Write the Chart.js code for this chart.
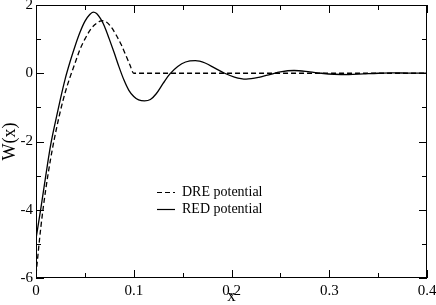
<!DOCTYPE html>
<html>
<head>
<meta charset="utf-8">
<script src="https://cdn.jsdelivr.net/npm/chart.js@4"></script>
<style>
  html, body { margin: 0; padding: 0; background: #fff; }
  #wrap { width: 436px; height: 305px; }
</style>
</head>
<body>
<div id="wrap"><canvas id="potChart"></canvas></div>
<script>
// values
const dreX = [0, 0.005, 0.01, 0.015, 0.02, 0.025, 0.03, 0.035, 0.04, 0.045, 0.05, 0.055, 0.06, 0.065, 0.068, 0.072, 0.077, 0.082, 0.087, 0.092, 0.096, 0.1, 0.4];
const dreW = [-5.9, -4.5, -3.4, -2.5, -1.75, -1.1, -0.55, -0.1, 0.3, 0.7, 1.0, 1.25, 1.42, 1.52, 1.54, 1.5, 1.35, 1.12, 0.85, 0.52, 0.25, 0, 0];

const redX = [0, 0.005, 0.01, 0.015, 0.02, 0.025, 0.03, 0.035, 0.04, 0.045, 0.05, 0.055, 0.0585, 0.062, 0.066, 0.07, 0.075, 0.08, 0.085, 0.09, 0.095, 0.1, 0.105, 0.111, 0.117, 0.123, 0.13, 0.137, 0.145, 0.153, 0.163, 0.173, 0.183, 0.193, 0.203, 0.215, 0.228, 0.24, 0.25, 0.264, 0.28, 0.292, 0.305, 0.32, 0.335, 0.35, 0.365, 0.38, 0.4];
const redW = [-4.85, -3.95, -3.0, -2.1, -1.4, -0.75, -0.15, 0.35, 0.8, 1.2, 1.52, 1.72, 1.79, 1.75, 1.6, 1.38, 1.0, 0.6, 0.18, -0.2, -0.5, -0.68, -0.78, -0.81, -0.77, -0.6, -0.3, -0.02, 0.2, 0.33, 0.37, 0.3, 0.15, 0.0, -0.11, -0.17, -0.12, -0.03, 0.04, 0.08, 0.04, 0.0, -0.03, -0.04, -0.02, 0.0, 0.01, 0.005, 0];

const seriesNames = ['DRE potential', 'RED potential'];
const xRange = [0, 0.4];
const yRange = [-6, 2];

const serif = '"Liberation Serif", "Times New Roman", serif';

function toPoints(xs, ys) {
  return xs.map((x, i) => ({ x: x, y: ys[i] }));
}

// fixed box sizes so the plot area sits where the original one does
function fixBox(s, size) {
  if (s.isHorizontal()) s.height = size; else s.width = size;
  s.paddingTop = 0; s.paddingBottom = 0;
  s.paddingLeft = 0; s.paddingRight = 0;
}

// frame, inward ticks and the legend box inside the plot
const decorations = {
  id: 'decorations',
  afterDraw(chart) {
    const ctx = chart.ctx;
    const { left, right, top, bottom } = chart.chartArea;
    const x = chart.scales.x, y = chart.scales.y;
    ctx.save();
    ctx.strokeStyle = '#000';
    ctx.lineWidth = 1;
    ctx.strokeRect(left + 0.5, top + 0.5, right - left - 1, bottom - top - 1);

    ctx.beginPath();
    for (let i = 0; i <= 8; i++) {
      const px = Math.round(x.getPixelForValue(i * 0.05)) + 0.5;
      const len = i % 2 === 0 ? 8 : 5;
      ctx.moveTo(px, bottom); ctx.lineTo(px, bottom - len);
      ctx.moveTo(px, top); ctx.lineTo(px, top + len);
    }
    for (let v = yRange[0]; v <= yRange[1]; v++) {
      const py = Math.round(y.getPixelForValue(v)) + 0.5;
      const len = v % 2 === 0 ? 8 : 5;
      ctx.moveTo(left, py); ctx.lineTo(left + len, py);
      ctx.moveTo(right, py); ctx.lineTo(right - len, py);
    }
    ctx.stroke();

    // legend
    const lx = 157, ly = 192, gap = 17;
    ctx.font = '14px ' + serif;
    ctx.fillStyle = '#000';
    ctx.textBaseline = 'middle';
    chart.data.datasets.forEach((ds, i) => {
      const yy = ly + i * gap + 0.5;
      ctx.setLineDash(ds.borderDash || []);
      ctx.lineWidth = 1.2;
      ctx.beginPath();
      ctx.moveTo(lx, yy); ctx.lineTo(lx + 18, yy);
      ctx.stroke();
      ctx.setLineDash([]);
      ctx.fillText(ds.label, lx + 25, yy);
    });
    ctx.restore();
  }
};

new Chart(document.getElementById('potChart'), {
  type: 'line',
  data: {
    datasets: [{
      label: seriesNames[0],
      data: toPoints(dreX, dreW),
      borderColor: '#000',
      borderWidth: 1.3,
      borderDash: [5, 3],
      pointRadius: 0,
      cubicInterpolationMode: 'monotone'
    }, {
      label: seriesNames[1],
      data: toPoints(redX, redW),
      borderColor: '#000',
      borderWidth: 1.3,
      pointRadius: 0,
      cubicInterpolationMode: 'monotone'
    }]
  },
  options: {
    responsive: true,
    maintainAspectRatio: false,
    animation: false,
    layout: { padding: { top: 5, right: 9, left: 0, bottom: 0 } },
    plugins: {
      legend: { display: false },
      tooltip: { enabled: false }
    },
    scales: {
      x: {
        type: 'linear',
        min: xRange[0],
        max: xRange[1],
        grid: { display: false, drawTicks: false },
        border: { display: false },
        afterFit(s) { fixBox(s, 27); },
        ticks: {
          stepSize: 0.1,
          padding: 4,
          color: '#000',
          font: { family: serif, size: 15 },
          maxRotation: 0,
          callback: v => v === 0 ? '0' : v.toFixed(1)
        },
        title: {
          display: true,
          text: 'x',
          color: '#000',
          padding: 0,
          font: { family: serif, size: 17, lineHeight: 1 }
        }
      },
      y: {
        min: yRange[0],
        max: yRange[1],
        grid: { display: false, drawTicks: false },
        border: { display: false },
        afterFit(s) { fixBox(s, 36); },
        ticks: {
          stepSize: 2,
          padding: 3,
          color: '#000',
          font: { family: serif, size: 15 },
          callback: v => String(v)
        },
        title: {
          display: true,
          text: 'W(x)',
          color: '#000',
          padding: 0,
          font: { family: serif, size: 18, lineHeight: 1.1 }
        }
      }
    }
  },
  plugins: [decorations]
});
</script>
</body>
</html>
